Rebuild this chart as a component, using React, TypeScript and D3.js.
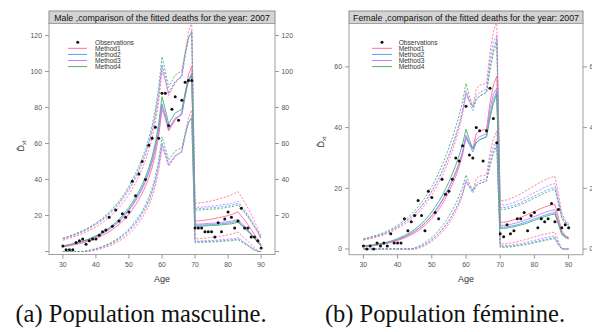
import React from 'react';
import * as d3 from 'd3';

// ages 30..90
const AGES = d3.range(30, 91);

const maleObs = [3,1,1,1,5,6,7,4,6,7, 7,9,11,12,19,14,23,17,21,19, 22,39,31,43,50,40,59,63,69,63,
  88,88,70,79,86,73,84,94,95,95, 13,13,13,11,11,11,8,16,11,18, 22,19,13,17,24,13,13,8,8,6,2];

const femaleObs = [1,0,1,0,2,1,2,1,5,2, 2,2,10,6,9,11,16,11,6,19, 17,12,10,23,18,19,23,30,29,34,
  47,31,30,40,39,29,39,53,43,35, 5,4,8,5,6,10,10,12,6,11, 12,7,10,9,10,15,9,13,7,8,7];

// fitted deaths, one array per method
const maleM1 = [2.5,2.8,3.1,3.5,3.9,4.3,4.8,5.3,5.9,6.5, 7.2,8.0,8.9,9.9,11.0,12.2,13.6,15.1,16.8,18.7,
  20.8,23.2,25.9,28.9,32.3,36.2,40.8,46.5,54,64, 79,74,67,70,73,75,77,88,98,103,
  17.0,17.0,17.2,17.4,17.7,18.0,18.3,18.7,19.1,19.5, 20.0,20.6,21.3,22.0,19.8,17.4,14.9,12.2,9.4,6.5,3.6];
const maleM2 = [3.0,3.3,3.7,4.1,4.5,5.0,5.5,6.1,6.8,7.5, 8.3,9.2,10.2,11.3,12.5,13.9,15.4,17.1,19.0,21.1,
  23.4,26.0,28.9,32.1,35.7,39.7,44.5,50.5,58,68, 82,76,68,71,74,75,76,86,95,99,
  14.6,14.6,14.7,14.8,14.9,15.0,15.1,15.2,15.4,15.6, 15.8,16.1,16.5,16.9,15.2,13.4,11.5,9.5,7.4,5.2,3.0];
const maleM3 = [2.9,3.2,3.6,4.0,4.4,4.9,5.4,6.0,6.6,7.3, 8.1,9.0,9.9,11.0,12.2,13.5,15.0,16.6,18.5,20.5,
  22.8,25.3,28.1,31.2,34.7,38.7,43.4,49.4,57,67, 81,75,68,71,74,75,77,87,95,98,
  15.2,15.2,15.3,15.4,15.6,15.7,15.8,16.0,16.2,16.4, 16.6,16.9,17.3,17.8,16.0,14.1,12.1,10.0,7.8,5.5,3.2];
const maleM4 = [3.2,3.5,3.9,4.3,4.8,5.3,5.8,6.4,7.1,7.9, 8.7,9.7,10.7,11.9,13.1,14.6,16.2,17.9,19.9,22.1,
  24.5,27.2,30.2,33.5,37.2,41.4,46.4,52.6,60.5,71, 86,79,71,74,77,78,79,88,95,98,
  14.0,14.0,14.1,14.2,14.3,14.4,14.5,14.6,14.8,15.0, 15.2,15.4,15.8,16.2,14.6,12.9,11.1,9.2,7.2,5.1,3.0];

const femaleM1 = [0.8,0.9,1.0,1.1,1.3,1.4,1.6,1.9,2.1,2.4, 2.8,3.2,3.6,4.1,4.7,5.3,6.0,6.9,7.8,8.9,
  10.1,11.5,13.0,14.7,16.6,18.8,21.2,24.0,27.2,31, 37,34.5,33,38,39,39.2,39.5,48,54,57,
  8.8,8.8,9.0,9.3,9.6,10.0,10.4,10.9,11.4,11.9, 12.4,12.9,13.4,13.8,14.2,14.5,14.7,10.5,6.0,4.5,3.8];
const femaleM2 = [0.9,1.0,1.1,1.3,1.4,1.6,1.8,2.1,2.4,2.7, 3.1,3.5,4.0,4.6,5.2,5.9,6.7,7.6,8.6,9.8,
  11.1,12.6,14.2,16.0,18.0,20.2,22.7,25.4,28.4,32, 36.5,34.5,32,35,36,36.5,37,44,49,52,
  7.2,7.2,7.3,7.5,7.7,8.0,8.3,8.7,9.1,9.5, 9.9,10.3,10.7,11.1,11.5,11.8,12.0,8.5,5.0,4.0,3.5];
const femaleM3 = [0.9,1.0,1.1,1.2,1.4,1.6,1.8,2.0,2.3,2.7, 3.0,3.5,4.0,4.5,5.1,5.8,6.6,7.5,8.5,9.7,
  11.0,12.4,14.0,15.8,17.8,20.0,22.5,25.2,28.2,32, 37.5,35,33,36,37,37.5,38,46,51,53,
  7.8,7.8,7.9,8.1,8.4,8.7,9.0,9.4,9.8,10.3, 10.7,11.1,11.6,12.0,12.4,12.7,12.9,9.2,5.4,4.2,3.6];
const femaleM4 = [1.0,1.1,1.3,1.4,1.6,1.8,2.0,2.3,2.6,3.0, 3.4,3.9,4.4,5.0,5.7,6.5,7.4,8.4,9.5,10.8,
  12.2,13.8,15.6,17.5,19.7,22.1,24.7,27.6,30.8,34.5, 39.5,36,33,35,36,36.5,37,43,48,51,
  6.8,6.8,6.9,7.1,7.3,7.6,7.9,8.2,8.6,9.0, 9.4,9.8,10.2,10.6,11.0,11.3,11.5,8.2,4.8,3.8,3.3];

const METHODS = ['Method1', 'Method2', 'Method3', 'Method4'];
const COLORS = ['#ff6f94', '#55a0ff', '#c47cff', '#4caf6a'];
const Z = 2.4; // width of the interval drawn around each fit

const maleTicks = [0, 20, 40, 60, 80, 100, 120];
const femaleTicks = [0, 20, 40, 60];
const ageTicks = [30, 40, 50, 60, 70, 80, 90];

const FONT = 'Liberation Sans, Arial, sans-serif';

function Panel({ x0, x1, yTop, stripTop, yBottom, yDomain, yTicks, hideZero, title, obs, fits, legend, yLabel, id }) {
  const x = d3.scaleLinear().domain([25.8, 94.2]).range([x0, x1]);
  const y = d3.scaleLinear().domain(yDomain).range([yBottom, yTop]);
  const line = d3.line().x((d, i) => x(AGES[i])).y(d => y(d));
  const band = (f, s) => f.map(v => Math.max(0, v + s * Z * Math.sqrt(v)));

  return (
    <g>
      <defs>
        <clipPath id={id}>
          <rect x={x0} y={yTop} width={x1 - x0} height={yBottom - yTop} />
        </clipPath>
      </defs>
      <rect x={x0} y={stripTop} width={x1 - x0} height={yTop - stripTop} fill="#d4d4d4" stroke="#8c8c8c" strokeWidth={1} />
      <text x={(x0 + x1) / 2} y={(stripTop + yTop) / 2 + 0.5} textAnchor="middle" dominantBaseline="central"
        fontFamily={FONT} fontSize={8.8} fill="#111">{title}</text>
      <rect x={x0} y={yTop} width={x1 - x0} height={yBottom - yTop} fill="none" stroke="#a0a0a0" strokeWidth={1} />

      {yTicks.map(t => (
        <g key={t} fontFamily={FONT} fontSize={6.9} fill="#555">
          <line x1={x0 - 4} x2={x0} y1={y(t)} y2={y(t)} stroke="#999" />
          <line x1={x1} x2={x1 + 4} y1={y(t)} y2={y(t)} stroke="#999" />
          {!(hideZero && t === 0) && (
            <>
              <text x={x0 - 7} y={y(t)} textAnchor="end" dominantBaseline="central">{t}</text>
              <text x={x1 + 6.5} y={y(t)} dominantBaseline="central">{t}</text>
            </>
          )}
        </g>
      ))}
      {ageTicks.map(t => (
        <g key={t} fontFamily={FONT} fontSize={6.9} fill="#555">
          <line x1={x(t)} x2={x(t)} y1={yBottom} y2={yBottom + 4} stroke="#999" />
          <text x={x(t)} y={yBottom + 10} textAnchor="middle" dominantBaseline="central">{t}</text>
        </g>
      ))}
      <text x={(x0 + x1) / 2} y={yBottom + 24} textAnchor="middle" dominantBaseline="central"
        fontFamily={FONT} fontSize={9} fill="#333">Age</text>
      <text transform={`translate(${yLabel[0]},${yLabel[1]}) rotate(-90)`} textAnchor="middle"
        fontFamily={FONT} fontSize={9} fill="#333">
        {'D\u0302'}<tspan fontSize={5.8} dy={2}>xt</tspan>
      </text>

      <g clipPath={`url(#${id})`} fill="none">
        {fits.map((f, m) => (
          <g key={'b' + m} stroke={COLORS[m]} strokeWidth={1} strokeDasharray="2.2,1.5" opacity={0.85}>
            <path d={line(band(f, 1))} />
            <path d={line(band(f, -1))} />
          </g>
        ))}
        {fits.map((f, m) => (
          <path key={'f' + m} d={line(f)} stroke={COLORS[m]} strokeWidth={1} opacity={0.9} />
        ))}
      </g>
      {obs.map((v, i) => (
        <circle key={i} cx={x(AGES[i])} cy={y(v)} r={1.5} fill="#111" />
      ))}

      <g fontFamily={FONT} fontSize={6.6} fill="#333">
        <circle cx={legend.dot} cy={42.3} r={1.5} fill="#111" />
        <text x={legend.text} y={42.3} dominantBaseline="central">Observations</text>
        {METHODS.map((m, i) => (
          <g key={m}>
            <line x1={legend.l0} x2={legend.l1} y1={48.3 + i * 6.1} y2={48.3 + i * 6.1} stroke={COLORS[i]} strokeWidth={1} />
            <text x={legend.text} y={48.3 + i * 6.1} dominantBaseline="central">{m}</text>
          </g>
        ))}
      </g>
    </g>
  );
}

export default function App() {
  return (
    <svg width={592} height={332} style={{ position: 'absolute', left: 0, top: 0, background: '#fff' }}>
      <rect width={592} height={332} fill="#fff" />
      <Panel id="clipM" x0={49} x1={275} yTop={23.5} stripTop={11} yBottom={254.5} yDomain={[-1.67, 126.7]}
        yTicks={maleTicks} hideZero title="Male ,comparison of the fitted deaths for the year: 2007"
        obs={maleObs} fits={[maleM1, maleM2, maleM3, maleM4]}
        legend={{ dot: 77.7, l0: 68, l1: 87, text: 95 }} yLabel={[24, 146]} />
      <Panel id="clipF" x0={349} x1={583} yTop={23.5} stripTop={11} yBottom={254.7} yDomain={[-1.88, 74.3]}
        yTicks={femaleTicks} hideZero={false} title="Female ,comparison of the fitted deaths for the year: 2007"
        obs={femaleObs} fits={[femaleM1, femaleM2, femaleM3, femaleM4]}
        legend={{ dot: 382, l0: 372, l1: 392, text: 398.7 }} yLabel={[324, 142]} />
      <g fontFamily="Liberation Serif, Times New Roman, serif" fontSize={24.5} fill="#111">
        <text x={141} y={322} textAnchor="middle">(a) Population masculine.</text>
        <text x={445} y={322} textAnchor="middle">(b) Population féminine.</text>
      </g>
    </svg>
  );
}
